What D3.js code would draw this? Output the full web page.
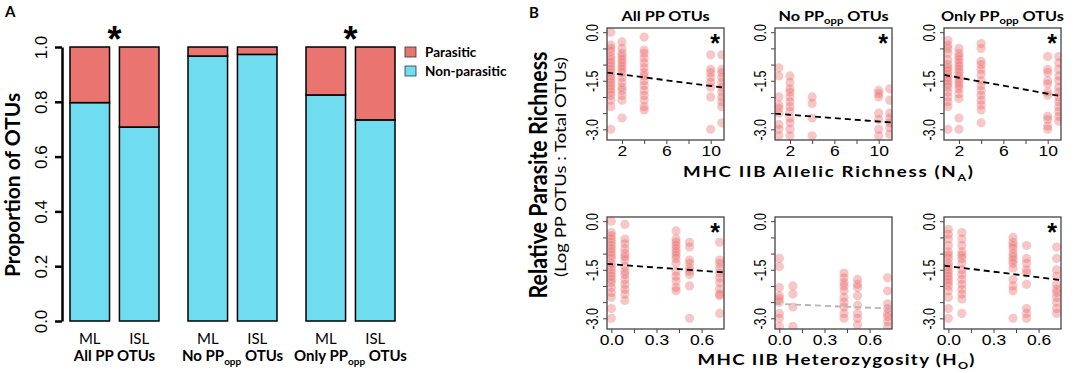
<!DOCTYPE html>
<html>
<head>
<meta charset="utf-8">
<script src="https://cdn.jsdelivr.net/npm/d3@7"></script>
<style>
  body { margin: 0; background: #fff; }
</style>
</head>
<body>
<svg id="fig" width="1084" height="373" font-family="'Liberation Sans', Arial, sans-serif"></svg>
<script>
// ---------- data : panel A ----------
const barGroups = ["All PP OTUs", "No PP_{opp} OTUs", "Only PP_{opp} OTUs"];
const barSites = ["ML", "ISL"];
const nonParasitic = [[0.797, 0.708], [0.967, 0.973], [0.825, 0.734]];
const barTicks = [0, 0.2, 0.4, 0.6, 0.8, 1.0];
const barSig = [true, false, true];
const legendLabels = ["Parasitic", "Non-parasitic"];

// ---------- data : panel B ----------
const panelTitles = ["All PP OTUs", "No PP_{opp} OTUs", "Only PP_{opp} OTUs"];
const yTicksB = [-3, -2.5, -2, -1.5, -1, -0.5, 0];
const yLabelsB = [-3, -1.5, 0];

const allelicX = [1, 2, 4, 10, 11];
const allelicTicks = [2, 4, 6, 8, 10];
const allelicLabels = [2, 6, 10];
const allelicAllPP = [
  [0.0, -0.4, -0.5, -0.6, -0.75, -0.85, -0.95, -1.05, -1.15, -1.25, -1.35, -1.45, -1.55, -1.65, -1.75, -1.85, -1.95, -2.1, -2.3, -3.0],
  [-0.3, -0.5, -0.65, -0.75, -0.85, -0.95, -1.05, -1.15, -1.25, -1.4, -1.55, -1.7, -1.8, -1.95, -2.1, -2.65],
  [-0.15, -0.55, -0.65, -0.8, -0.95, -1.1, -1.25, -1.35, -1.5, -1.65, -1.8, -1.95, -2.1, -2.3, -2.4],
  [-0.7, -1.15, -1.25, -1.4, -1.55, -1.7, -2.0, -3.0],
  [-0.7, -1.15, -1.25, -1.4, -1.55, -1.7, -1.85, -2.0, -2.15, -2.3, -2.8]
];
const allelicNoOpp = [
  [-1.1, -1.35, -2.0, -2.25, -2.35, -2.5, -2.85, -3.0, -3.2],
  [-1.35, -1.55, -1.75, -1.85, -2.0, -2.15, -2.3, -2.45, -2.65, -2.8, -3.0, -3.2],
  [-2.0, -2.2, -2.65, -3.2],
  [-1.8, -1.9, -2.0, -2.5, -2.7, -3.0, -3.2],
  [-1.75, -2.1, -2.5, -2.65, -2.8, -2.95, -3.15]
];
const allelicOnlyOpp = [
  [-0.25, -0.4, -0.5, -0.65, -0.85, -1.0, -1.1, -1.2, -1.3, -1.4, -1.5, -1.6, -1.7, -1.85, -2.0, -2.15, -2.3, -3.0],
  [-0.5, -0.65, -0.75, -0.85, -0.95, -1.05, -1.15, -1.25, -1.35, -1.45, -1.55, -1.65, -1.75, -1.9, -2.05, -2.65, -3.0],
  [-0.35, -0.5, -0.9, -1.0, -1.15, -1.3, -1.5, -1.65, -1.8, -1.95, -2.1, -2.25, -2.4, -2.8],
  [-0.75, -1.15, -1.25, -1.5, -1.6, -1.85, -1.95, -2.6, -2.7, -2.9, -3.0],
  [-0.75, -0.95, -1.15, -1.35, -1.5, -1.7, -1.85, -2.0, -2.15, -2.3, -2.45, -2.6, -2.75]
];
const allelicFit = [[-1.22, -0.044], [-2.50, -0.026], [-1.28, -0.062]]; // intercept, slope
const allelicSig = [true, true, true];

const hetX = [0, 0.09, 0.43, 0.52, 0.72];
const hetTicks = [0, 0.15, 0.3, 0.45, 0.6];
const hetLabels = [0, 0.3, 0.6];
const hetAllPP = [
  [0.0, -0.35, -0.45, -0.55, -0.65, -0.75, -0.85, -0.95, -1.05, -1.15, -1.3, -1.4, -1.5, -1.6, -1.7, -1.8, -1.9, -2.05, -2.2, -2.35, -2.7, -3.0],
  [-0.1, -0.55, -0.7, -0.85, -1.0, -1.1, -1.2, -1.4, -1.55, -1.65, -1.8, -1.95, -2.1, -2.25, -2.45],
  [-0.3, -0.55, -0.65, -0.75, -0.85, -0.95, -1.05, -1.15, -1.3, -1.55, -1.7, -1.85, -2.05, -2.15],
  [-0.65, -0.8, -1.2, -1.3, -1.45, -1.55, -1.65, -2.0, -3.0],
  [-0.65, -1.2, -1.3, -1.45, -1.6, -1.75, -1.9, -2.1, -2.25, -2.3, -2.85]
];
const hetNoOpp = [
  [-1.15, -1.4, -2.05, -2.3, -2.4, -2.5, -2.85, -3.0, -3.25],
  [-2.0, -2.25, -2.65, -3.25],
  [-1.6, -1.75, -1.9, -2.0, -2.15, -2.35, -2.5, -2.65, -2.85, -3.0],
  [-1.8, -1.95, -2.05, -2.3, -2.6, -2.85, -3.0, -3.2],
  [-1.75, -2.15, -2.55, -2.7, -2.85, -2.95, -3.1, -3.25]
];
const hetOnlyOpp = [
  [-0.25, -0.4, -0.55, -0.75, -0.95, -1.05, -1.15, -1.3, -1.4, -1.5, -1.6, -1.7, -1.8, -1.9, -2.0, -2.15, -2.35, -2.7, -3.0],
  [-0.35, -0.55, -0.75, -0.95, -1.05, -1.15, -1.3, -1.5, -1.65, -1.8, -1.95, -2.1, -2.25, -2.4, -2.85],
  [-0.5, -0.65, -0.75, -0.85, -1.0, -1.1, -1.2, -1.3, -1.45, -1.8, -2.0, -2.15, -3.0],
  [-0.75, -1.15, -1.3, -1.5, -1.6, -1.95, -2.7, -2.85, -3.0],
  [-0.8, -1.15, -1.5, -1.7, -1.95, -2.1, -2.2, -2.35, -2.5, -2.7, -2.85]
];
const hetFit = [[-1.33, -0.334], [-2.556, -0.193], [-1.387, -0.578]];
const hetSig = [true, false, true];

// ---------- style ----------
const RED = "#ea7470", CYAN = "#70dcef", DOT = "#e9686a";
const labelFont = "Lato, 'Open Sans', sans-serif";
const tickFont = "'Liberation Sans', Arial, sans-serif";
const stretch = 1.25;   // the B panel text is drawn a little wide

const svg = d3.select("#fig");

// text with _{sub} parts
function rich(t, str, subSize) {
  const parts = str.split(/_\{|\}/);
  parts.forEach((p, i) => {
    if (!p) return;
    const s = t.append("tspan").text(p);
    if (i % 2 === 1) s.attr("font-size", subSize).attr("dy", subSize * 0.35);
    else if (i > 0) s.attr("dy", -subSize * 0.35);
  });
  return t;
}

// ================= Panel A =================
svg.append("text").attr("x", 5).attr("y", 17)
  .attr("font-family", labelFont).attr("font-weight", "bold").attr("font-size", 15).text("A");

const yA = d3.scaleLinear().domain([0, 1]).range([321, 47]);
const xGroup = d3.scaleBand().domain(d3.range(barGroups.length)).range([70, 395]).paddingInner(0.246);
const xSite = d3.scaleBand().domain(barSites).range([0, xGroup.bandwidth()]).paddingInner(0.2);

const axA = svg.append("g").attr("transform", "translate(62,0)")
  .call(d3.axisLeft(yA).tickValues(barTicks).tickSize(7).tickSizeOuter(0).tickFormat(d => d.toFixed(1)));
axA.select(".domain").attr("stroke-width", 2.5);
axA.selectAll(".tick line").attr("stroke-width", 2.5);
axA.selectAll(".tick text")
  .attr("x", null).attr("dy", null)
  .attr("transform", "translate(-15,0) rotate(-90)")
  .attr("text-anchor", "middle")
  .attr("font-family", tickFont)
  .attr("font-size", 17).attr("fill", "#000");

svg.append("text")
  .attr("transform", "translate(20,185) rotate(-90)")
  .attr("text-anchor", "middle")
  .attr("font-family", labelFont).attr("font-weight", "bold").attr("font-size", 21)
  .text("Proportion of OTUs");

barGroups.forEach((grp, gi) => {
  barSites.forEach((site, si) => {
    const x = xGroup(gi) + xSite(site);
    const v = nonParasitic[gi][si];
    svg.append("rect")
      .attr("x", x).attr("width", xSite.bandwidth())
      .attr("y", yA(v)).attr("height", yA(0) - yA(v))
      .attr("fill", CYAN).attr("stroke", "#000").attr("stroke-width", 1.5);
    svg.append("rect")
      .attr("x", x).attr("width", xSite.bandwidth())
      .attr("y", yA(1)).attr("height", yA(v) - yA(1))
      .attr("fill", RED).attr("stroke", "#000").attr("stroke-width", 1.5);
    svg.append("text")
      .attr("x", x + xSite.bandwidth() / 2).attr("y", 344)
      .attr("text-anchor", "middle")
      .attr("font-family", labelFont).attr("font-size", 15)
      .text(site);
  });
  const cx = xGroup(gi) + xGroup.bandwidth() / 2;
  rich(svg.append("text")
    .attr("x", cx).attr("y", 361)
    .attr("text-anchor", "middle")
    .attr("font-family", labelFont).attr("font-weight", "bold").attr("font-size", 15), grp, 10);
  if (barSig[gi]) {
    svg.append("text").attr("x", cx).attr("y", 52)
      .attr("text-anchor", "middle").attr("font-weight", "bold").attr("font-size", 36)
      .text("*");
  }
});

// legend
const legA = svg.append("g").attr("transform", "translate(405,47)");
legendLabels.forEach((lab, i) => {
  legA.append("rect").attr("x", 0).attr("y", i * 19).attr("width", 11).attr("height", 10)
    .attr("fill", i === 0 ? RED : CYAN).attr("stroke", "#333").attr("stroke-width", 0.8);
  legA.append("text").attr("x", 20).attr("y", i * 19 + 9.5)
    .attr("font-family", labelFont).attr("font-weight", "bold").attr("font-size", 13.5)
    .text(lab);
});

// ================= Panel B =================
svg.append("text").attr("x", 529).attr("y", 18)
  .attr("font-family", labelFont).attr("font-weight", "bold").attr("font-size", 15).text("B");

svg.append("text")
  .attr("transform", `translate(547,175) scale(${stretch},1) rotate(-90)`)
  .attr("text-anchor", "middle")
  .attr("font-family", labelFont).attr("font-weight", "bold").attr("font-size", 20)
  .attr("textLength", 247).attr("lengthAdjust", "spacingAndGlyphs")
  .text("Relative Parasite Richness");
svg.append("text")
  .attr("transform", `translate(566,167) scale(${stretch},1) rotate(-90)`)
  .attr("text-anchor", "middle")
  .attr("font-family", labelFont).attr("font-size", 13)
  .attr("textLength", 220).attr("lengthAdjust", "spacingAndGlyphs")
  .text("(Log PP OTUs : Total OTUs)");

const panelX = [607, 775, 944];
const panelW = 117, panelH = 112;
const yDomainB = [-3.33, 0.13];

const rows = [
  { top: 28, xs: allelicX, domain: [0.65, 11.2], ticks: allelicTicks, labels: allelicLabels, fmt: d => String(d),
    sets: [allelicAllPP, allelicNoOpp, allelicOnlyOpp], fits: allelicFit, sig: allelicSig,
    title: "MHC IIB Allelic Richness (N_{A})", titleX: 828, titleY: 177, titleLen: 290 },
  { top: 217, xs: hetX, domain: [-0.029, 0.749], ticks: hetTicks, labels: hetLabels, fmt: d => d.toFixed(1),
    sets: [hetAllPP, hetNoOpp, hetOnlyOpp], fits: hetFit, sig: hetSig,
    title: "MHC IIB Heterozygosity (H_{O})", titleX: 836, titleY: 365, titleLen: 277 }
];

rows.forEach((row, ri) => {
  row.sets.forEach((cols, pi) => {
    const x0 = panelX[pi];
    const x = d3.scaleLinear().domain(row.domain).range([x0, x0 + panelW]);
    const y = d3.scaleLinear().domain(yDomainB).range([row.top + panelH, row.top]);
    const g = svg.append("g");
    const clipId = `clip-${ri}-${pi}`;
    g.append("clipPath").attr("id", clipId).append("rect")
      .attr("x", x0).attr("y", row.top).attr("width", panelW).attr("height", panelH);
    const inner = g.append("g").attr("clip-path", `url(#${clipId})`);

    cols.forEach((vals, ci) => {
      inner.selectAll(null).data(vals).join("circle")
        .attr("cx", x(row.xs[ci])).attr("cy", d => y(d)).attr("r", 4.6)
        .attr("fill", DOT).attr("fill-opacity", 0.38);
    });

    const [a, b] = row.fits[pi];
    inner.append("line")
      .attr("x1", x(row.domain[0])).attr("y1", y(a + b * row.domain[0]))
      .attr("x2", x(row.domain[1])).attr("y2", y(a + b * row.domain[1]))
      .attr("stroke", row.sig[pi] ? "#000" : "#b5b5b5")
      .attr("stroke-width", 1.8).attr("stroke-dasharray", "6,4");

    g.append("rect").attr("x", x0).attr("y", row.top).attr("width", panelW).attr("height", panelH)
      .attr("fill", "none").attr("stroke", "#444").attr("stroke-width", 1.3);

    // y axis
    const ay = g.append("g").attr("transform", `translate(${x0},0)`)
      .call(d3.axisLeft(y).tickValues(yTicksB).tickSize(4)
        .tickFormat(d => yLabelsB.includes(d) ? d.toFixed(1) : ""));
    ay.select(".domain").remove();
    ay.selectAll(".tick line").attr("stroke", "#444");
    ay.selectAll(".tick text")
      .attr("x", null).attr("dy", null)
      .attr("transform", `translate(-9,0) scale(${stretch},1) rotate(-90)`)
      .attr("text-anchor", "middle")
      .attr("font-family", tickFont)
      .attr("font-size", 12.5).attr("fill", "#000");

    // x axis
    const ax = g.append("g").attr("transform", `translate(0,${row.top + panelH})`)
      .call(d3.axisBottom(x).tickValues(row.ticks).tickSize(4)
        .tickFormat(d => row.labels.includes(d) ? row.fmt(d) : ""));
    ax.select(".domain").remove();
    ax.selectAll(".tick line").attr("stroke", "#444");
    ax.selectAll(".tick text")
      .attr("y", 6).attr("dy", "0.71em")
      .attr("transform", `scale(${stretch},1)`)
      .attr("font-family", tickFont)
      .attr("font-size", 14).attr("fill", "#000");

    if (row.sig[pi]) {
      g.append("text")
        .attr("transform", `translate(${x0 + panelW - 9},${row.top + 24})`)
        .attr("text-anchor", "middle").attr("font-weight", "bold").attr("font-size", 25)
        .text("*");
    }

    if (ri === 0) {
      rich(g.append("text")
        .attr("transform", `translate(${x0 + panelW / 2},21) scale(${stretch},1)`)
        .attr("text-anchor", "middle")
        .attr("font-family", labelFont).attr("font-weight", "bold").attr("font-size", 13),
        panelTitles[pi], 9);
    }
  });

  rich(svg.append("text")
    .attr("transform", `translate(${row.titleX},${row.titleY}) scale(${stretch},1)`)
    .attr("text-anchor", "middle")
    .attr("font-family", labelFont).attr("font-weight", "bold").attr("font-size", 15)
    .attr("textLength", row.titleLen / stretch).attr("lengthAdjust", "spacing"),
    row.title, 10);
});
</script>
</body>
</html>
